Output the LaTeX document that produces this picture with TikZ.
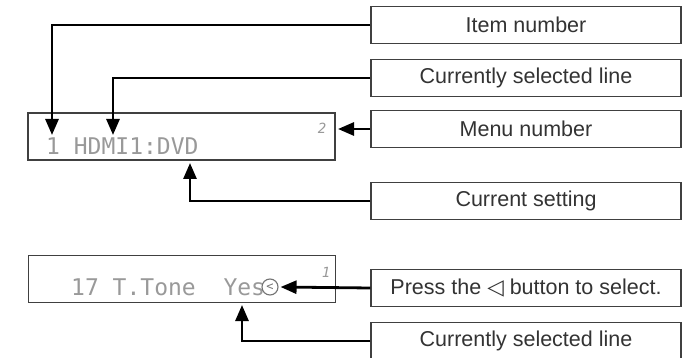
\documentclass[tikz,border=0pt]{standalone}
\usepackage{fontspec}
\setmainfont{Liberation Sans}
\newfontfamily\lcdfont{DejaVu Sans Mono}
\newfontfamily\symfont{DejaVu Sans}
\usetikzlibrary{arrows.meta,positioning}

\begin{document}
\begin{tikzpicture}[x=1pt,y=-1pt]
  \tikzset{
    tagbox/.style={draw=black!75,line width=1.2pt,fill=white,minimum width=310pt,
      minimum height=37pt,inner sep=0pt,font=\fontsize{21.5}{24}\selectfont,text=black!80},
    lcd/.style={draw=black!75,line width=1.2pt,minimum width=307pt,minimum height=47pt,inner sep=0pt},
    lcdtext/.style={font=\lcdfont\fontsize{23}{26}\selectfont,text=black!40,inner sep=0pt,anchor=base west},
    lcdsmall/.style={font=\lcdfont\itshape\fontsize{14}{14}\selectfont,text=black!40,inner sep=0pt},
    callout/.style={line width=2.8pt,-{Triangle[length=16pt,width=13pt]}}
  }
  \useasboundingbox (0,0) rectangle (690,358);
  % LCD displays
  \node[lcd] (dispone) at (181.5,136.5) {};
  \node[lcdtext] (lcdone) at (46,155) {1 HDMI1:DVD};
  \node[lcdsmall] (menunum) at (322,128) {2};
  \node[lcd] (disptwo) at (182,279) {};
  \node[lcdtext] (lcdtwo) at (71,295) {17 T.Tone\ \ Yes};
  \node[lcdsmall] (menunumtwo) at (326,272) {1};
  \node[circle,draw=black!55,line width=1.1pt,minimum size=16pt,inner sep=0pt,
    font=\lcdfont\fontsize{12}{12}\selectfont,text=black!55] (yesmark) at (270,287) {<};
  % explanation boxes
  \node[tagbox] (itemno) at (526,25) {Item number};
  \node[tagbox] (selline) at (526,78) {Currently selected line};
  \node[tagbox] (menuno) at (526,129) {Menu number};
  \node[tagbox] (curset) at (526,201) {Current setting};
  \node[tagbox] (pressbtn) at (526,288) {Press the {\symfont ◁} button to select.};
  \node[tagbox] (sellinetwo) at (526,341) {Currently selected line};
  % arrow tips
  \coordinate (itemtip) at (52,135);
  \coordinate (seltip) at (113,135);
  \coordinate (menutip) at (338,129);
  \coordinate (settip) at (190,163);
  \coordinate (seltiptwo) at (242,305);
  \draw[callout] (itemno.west) -| (itemtip);
  \draw[callout] (selline.west) -| (seltip);
  \draw[callout] (menuno.west) -- (menutip);
  \draw[callout] (curset.west) -| (settip);
  \draw[callout] (pressbtn.west) -- ([xshift=2pt]yesmark.east);
  \draw[callout] (sellinetwo.west) -| (seltiptwo);
\end{tikzpicture}
\end{document}
